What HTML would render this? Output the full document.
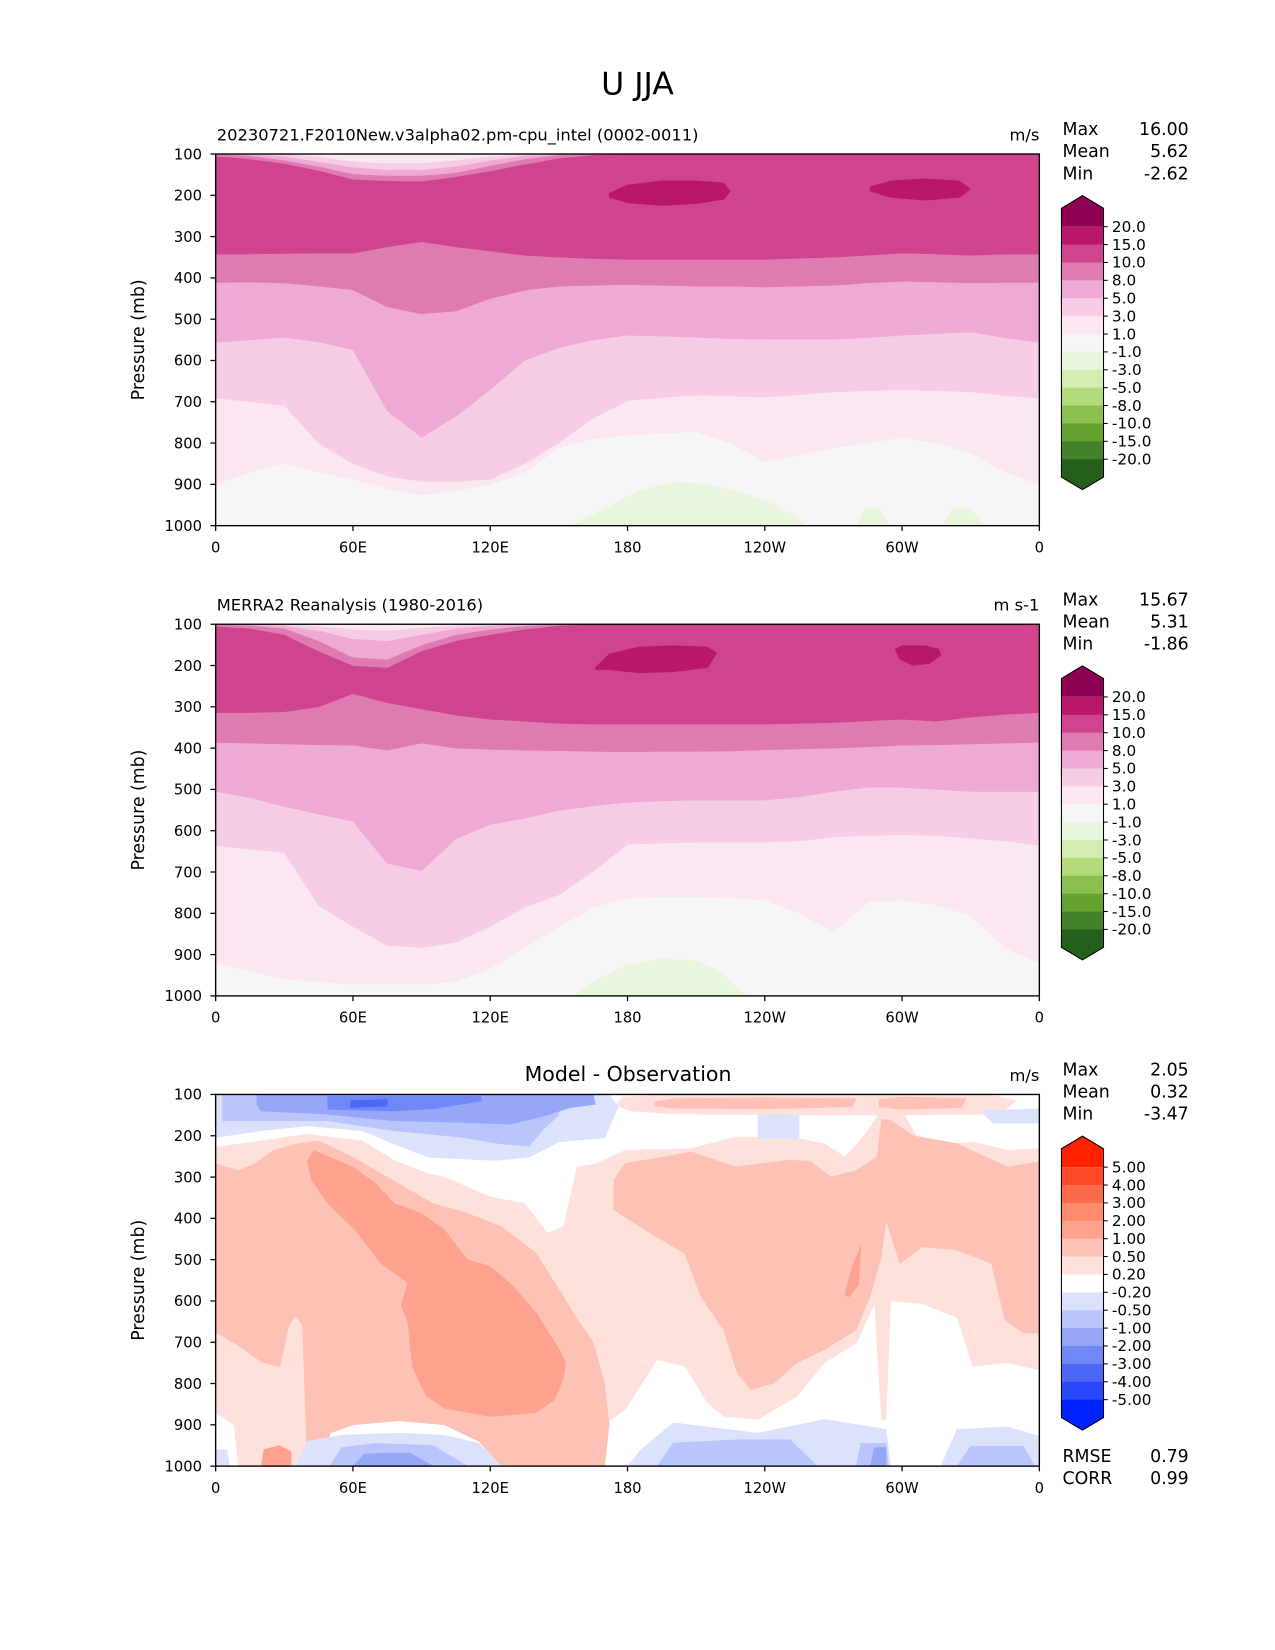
<!DOCTYPE html>
<html>
<head>
<meta charset="utf-8">
<style>
html,body{margin:0;padding:0;background:#fff;}
svg{display:block;font-family:"DejaVu Sans","Liberation Sans",sans-serif;}
</style>
</head>
<body>
<svg id="fig" width="1275" height="1650" viewBox="0 0 1212 1568.5" xmlns="http://www.w3.org/2000/svg">
<rect x="0" y="0" width="1212" height="1568.5" fill="#fff"/>
<text x="606" y="90" font-size="30" text-anchor="middle">U JJA</text>
</svg>
<script>
// ---------- data ----------
const lons15 = [0,15,30,45,60,75,90,105,120,135,150,165,180,195,210,225,240,255,270,285,300,315,330,345,360];
const yTicks = [100,200,300,400,500,600,700,800,900,1000];
const xTickLons = [0,60,120,180,240,300,360];
const xTickLabels = ["0","60E","120E","180","120W","60W","0"];

const fieldLevels = ["20.0","15.0","10.0","8.0","5.0","3.0","1.0","-1.0","-3.0","-5.0","-8.0","-10.0","-15.0","-20.0"];
const fieldColors = ['#8e0152','#b8176c','#d0438f','#de7bb1','#eeaad4','#f7cde5','#fae7f2','#f6f6f6','#e9f5dc','#d4ecb2','#b3db7b','#8bbf4f','#64a330','#44812a','#265f1c'];
const diffLevels = ["5.00","4.00","3.00","2.00","1.00","0.50","0.20","-0.20","-0.50","-1.00","-2.00","-3.00","-4.00","-5.00"];
const diffColors = ['#ff2200','#ff4a2a','#ff6a4a','#ff8a6c','#fda28e','#fdc2b5','#ffe1dc','#ffffff','#dce2fc','#bac5fb','#96a7f8','#7088f5','#4d68f4','#2a48fa','#0022ff'];

// Model: lower boundary pressure (hPa) of regions >= threshold
const m_b1  = [900,870,850,870,888,910,926,915,901,870,811,790,781,776,773,800,845,830,811,800,786,800,824,870,900];
const m_b3  = [691,700,709,800,850,880,893,893,888,850,799,740,697,690,684,686,689,683,676,673,671,673,676,685,691];
const m_b5  = [556,550,544,555,574,722,786,735,671,600,569,550,539,541,544,547,549,549,549,545,539,535,531,545,556];
const m_b8  = [411,410,412,420,429,470,487,480,450,430,420,418,416,418,420,420,422,420,418,412,408,410,412,411,411];
const m_b10 = [342,342,341,340,340,325,312,325,335,345,350,353,355,355,355,355,355,352,350,345,340,342,345,342,342];
// Model: weak-wind cap near 100 hPa (lower boundary)
const m_t8 = [105,112,123,140,161,165,166,155,141,125,110,102,100,100,100,100,100,100,100,100,100,100,100,100,100];
const m_t5 = [100,104,115,130,148,152,152,145,128,112,102,100,100,100,100,100,100,100,100,100,100,100,100,100,100];
const m_t3 = [100,100,106,118,132,138,138,130,115,104,100,100,100,100,100,100,100,100,100,100,100,100,100,100,100];
const m_t1 = [100,100,100,106,118,122,122,115,105,100,100,100,100,100,100,100,100,100,100,100,100,100,100,100,100];
const m_core1Lon = [172,180,195,210,222,225,222,210,195,180,172];
const m_core1P   = [195,175,165,165,170,190,210,220,225,218,205];
const m_core2Lon = [286,295,310,325,330,325,310,295,286];
const m_core2P   = [180,165,160,165,185,205,212,205,190];
const m_greenLon = [155,170,185,200,215,230,245,255,258];
const m_greenP   = [1000,960,915,895,900,920,950,985,1000];
const m_green2Lon = [280,284,290,294];
const m_green2P   = [1000,960,955,1000];
const m_green3Lon = [318,322,330,336];
const m_green3P   = [1000,960,960,1000];

// Obs
const o_b1  = [921,940,959,965,972,972,972,965,934,883,832,786,763,760,760,762,768,800,845,773,768,780,806,883,921];
const o_b3  = [636,645,653,781,832,878,883,870,832,786,755,699,633,630,628,628,628,625,615,612,610,612,618,625,636];
const o_b5  = [505,520,541,560,577,679,697,620,585,570,551,540,531,528,526,526,526,518,505,495,495,500,505,505,505];
const o_b8  = [386,388,390,392,393,405,388,400,403,405,406,408,409,408,408,407,404,402,400,397,393,392,390,388,386];
const o_b10 = [314,314,312,300,268,290,305,320,330,335,340,342,342,342,342,342,342,340,338,334,330,335,325,318,314];
const o_t8 = [105,110,125,165,200,205,165,140,125,112,103,100,100,100,100,100,100,100,100,100,100,100,100,100,100];
const o_t5 = [100,103,110,140,180,185,150,125,112,104,100,100,100,100,100,100,100,100,100,100,100,100,100,100,100];
const o_t3 = [100,100,104,115,135,140,125,110,103,100,100,100,100,100,100,100,100,100,100,100,100,100,100,100,100];
const o_t1 = [100,100,100,104,112,115,108,102,100,100,100,100,100,100,100,100,100,100,100,100,100,100,100,100,100];
const o_core1Lon = [166,172,185,200,215,219,215,200,185,172,166];
const o_core1P   = [205,172,155,152,155,170,205,215,218,210,210];
const o_core2Lon = [297,300,310,316,317,312,305,299];
const o_core2P   = [160,152,152,160,175,195,200,185];
const o_greenLon = [157,165,180,195,210,220,230,233];
const o_greenP   = [1000,965,925,910,915,940,990,1000];

// Diff regions (lon, hPa) polygons
const d_L1Lon = [0,20,40,64,78,93,100,120,135,145,152,158,166,179,208,227,251,266,275,283,291,300,309,331,346,360,360,346,331,324,309,295,293,291,288,280,266,254,237,222,215,205,193,179,171,164,160,10,8,0];
const d_L1P   = [228,212,196,212,260,292,300,348,364,436,420,276,268,235,231,203,203,219,251,203,139,140,227,215,235,231,767,750,758,640,607,600,887,887,607,702,750,831,887,879,847,758,742,863,895,952,1000,1000,900,870];
const d_W1Lon = [40,42,60,90,115,130,140];
const d_W1P   = [1000,900,880,880,900,960,1000];
const d_L2aLon = [0,10,17,25,35,45,60,80,95,110,125,140,150,158,165,170,172,170,125,115,100,80,60,50,48,40,38,35,32,28,20,10,0];
const d_L2aP   = [268,284,268,236,220,212,252,316,364,388,420,484,572,644,700,800,900,1000,1000,940,900,890,900,920,1000,1000,660,636,660,760,748,708,676];
const d_L2bLon = [174,179,208,227,251,260,269,280,289,291,295,305,324,346,360,360,353,345,339,324,309,299,293,291,286,280,266,254,244,234,228,222,212,205,190,174];
const d_L2bP   = [308,267,239,275,259,262,300,284,251,160,163,200,219,275,263,678,678,646,509,477,469,509,404,493,589,670,718,750,799,815,775,670,589,485,436,380];
const d_L3aLon = [40,43,50,60,70,78,90,100,110,120,130,140,150,153,152,148,140,120,100,92,86,84,81,84,72,61,49,42];
const d_L3aP   = [260,236,252,276,316,364,388,428,500,516,564,628,716,748,788,840,870,880,860,830,760,652,612,556,508,428,364,308];
const d_L3bLon = [275,278,282,281,277];
const d_L3bP   = [585,520,465,560,590];
const d_L3cLon = [20,21,28,33,33];
const d_L3cP   = [1000,960,950,965,1000];
const d_topL1Lon = [175,178,190,240,290,340,350,343,300,250,200,181];
const d_topL1P   = [125,106,103,103,103,103,115,147,150,150,147,140];
const d_topL2aLon = [192,200,240,280,278,240,200,192];
const d_topL2aP   = [118,110,108,110,130,135,133,128];
const d_topL2bLon = [290,300,328,326,300,290];
const d_topL2bP   = [112,106,110,132,136,130];
const d_B1Lon = [0,172,176,170,160,150,137,122,93,78,64,40,20,0];
const d_B1P   = [100,100,130,205,210,215,252,260,252,220,188,176,188,204];
const d_B2Lon = [3,150,150,144,137,125,108,78,49,20,3];
const d_B2P   = [100,100,150,180,225,220,204,188,164,164,164];
const d_B3Lon = [18,165,166,155,145,129,108,78,49,20,18];
const d_B3P   = [100,100,124,132,150,172,168,164,148,140,125];
const d_B4Lon = [49,116,116,95,78,49];
const d_B4P   = [104,104,116,135,140,136];
const d_B5Lon = [59,75,75,59];
const d_B5P   = [115,112,128,132];
const d_Bt1Lon = [237,255,255,237];
const d_Bt1P   = [150,150,207,207];
const d_Bt2Lon = [334,360,360,340];
const d_Bt2P   = [140,135,170,170];
const d_Bb1Lon = [35,40,55,80,100,115,125];
const d_Bb1P   = [1000,940,925,920,925,945,1000];
const d_Bb2Lon = [50,55,70,95,110];
const d_Bb2P   = [1000,955,945,950,1000];
const d_Bb3Lon = [60,65,85,95];
const d_Bb3P   = [1000,970,968,1000];
const d_Bb4Lon = [180,186,200,237,266,293,295];
const d_Bb4P   = [1000,960,895,920,887,911,1000];
const d_Bb5Lon = [317,324,346,360,360];
const d_Bb5P   = [1000,911,905,928,1000];
const d_Bb6Lon = [193,200,229,251,263];
const d_Bb6P   = [1000,944,936,936,1000];
const d_Bb7Lon = [280,282,293,294];
const d_Bb7P   = [1000,945,945,1000];
const d_Bb8Lon = [324,330,353,358];
const d_Bb8P   = [1000,952,952,1000];
const d_Bb9Lon = [286,288,293,293];
const d_Bb9P   = [1000,955,955,1000];
const d_Bb10Lon = [0,0,5,6];
const d_Bb10P   = [1000,960,960,1000];

// ---------- drawing ----------
const NS = "http://www.w3.org/2000/svg";
const svg = document.getElementById('fig');
const PX0 = 205, PW = 783, PH = 353.3;
function X(lon){ return PX0 + lon/360*PW; }
function mk(tag, attrs, parent){
  const e = document.createElementNS(NS, tag);
  for (const k in attrs) e.setAttribute(k, attrs[k]);
  (parent||svg).appendChild(e);
  return e;
}

function panel(top, idx){
  const Y = p => top + (p-100)/900*PH;
  const g = mk('g', {});
  
  
  const cid = 'clip' + idx;
  const defs = mk('defs', {}, g);
  const cp = mk('clipPath', {id: cid}, defs);
  mk('rect', {x: PX0, y: top, width: PW, height: PH}, cp);
  const plot = mk('g', {'clip-path': 'url(#' + cid + ')'}, g);
  
  
  return {g, plot, Y, top};
}
function bandFromTop(P, arr, color, name){
  let pts = [[X(0), P.Y(100)]];
  for (let i = 0; i < lons15.length; i++) pts.push([X(lons15[i]), P.Y(arr[i])]);
  pts.push([X(360), P.Y(100)]);
  const e = mk('polygon', {points: pts.map(p => p.join(',')).join(' '), fill: color, stroke: color, 'stroke-width': 0.5}, P.plot);
  
  
}
function poly(P, lonArr, pArr, color, name){
  const pts = lonArr.map((l, i) => X(l) + ',' + P.Y(pArr[i])).join(' ');
  const e = mk('polygon', {points: pts, fill: color, stroke: color, 'stroke-width': 0.5}, P.plot);
  
  
}
function axes(P, leftTitle, rightTitle, centerTitle, stats, extra){
  const top = P.top, g = P.g;
  const fr = mk('rect', {x: PX0, y: top, width: PW, height: PH, fill: 'none', stroke: '#000', 'stroke-width': 1.3}, g);
  
  
  yTicks.forEach(p => {
    const y = P.Y(p);
    mk('line', {x1: PX0-5, x2: PX0, y1: y, y2: y, stroke: '#000', 'stroke-width': 1.2}, g);
    const t = mk('text', {x: PX0-13, y: y+5, 'font-size': 14, 'text-anchor': 'end'}, g);
    
    
    t.textContent = p;
  });
  xTickLons.forEach((l, i) => {
    const x = X(l);
    mk('line', {x1: x, x2: x, y1: top+PH, y2: top+PH+5, stroke: '#000', 'stroke-width': 1.2}, g);
    const t = mk('text', {x: x, y: top+PH+25.5, 'font-size': 14, 'text-anchor': 'middle'}, g);
    
    
    t.textContent = xTickLabels[i];
  });
  const yt = mk('text', {x: 0, y: 0, 'font-size': 16.5, 'text-anchor': 'middle', transform: 'translate(137,' + (top+PH/2) + ') rotate(-90)'}, g);
  
  
  yt.textContent = 'Pressure (mb)';
  if (leftTitle){
    const t = mk('text', {x: 206, y: top-13, 'font-size': 15.5}, g);
    
    
    t.textContent = leftTitle;
  }
  if (centerTitle){
    const t = mk('text', {x: 597, y: top-13, 'font-size': 19.5, 'text-anchor': 'middle'}, g);
    
    
    t.textContent = centerTitle;
  }
  const u = mk('text', {x: 988, y: top-13, 'font-size': 15.5, 'text-anchor': 'end'}, g);
  
  
  u.textContent = rightTitle;
  const names = ['Max','Mean','Min'];
  names.forEach((n, i) => {
    const a = mk('text', {x: 1010, y: top-18+i*21, 'font-size': 16.5}, g);
    
    
    a.textContent = n;
    const b = mk('text', {x: 1130, y: top-18+i*21, 'font-size': 16.5, 'text-anchor': 'end'}, g);
    
    
    b.textContent = stats[i];
  });
  if (extra){
    extra.forEach((e, i) => {
      const a = mk('text', {x: 1010, y: top+PH-4+i*21, 'font-size': 16.5}, g);
      
      
      a.textContent = e[0];
      const b = mk('text', {x: 1130, y: top+PH-4+i*21, 'font-size': 16.5, 'text-anchor': 'end'}, g);
      
      
      b.textContent = e[1];
    });
  }
}
function colorbar(P, colors, levels){
  const g = mk('g', {}, P.g);
  
  
  const off = P.top - 146.4;
  const x0 = 1009, x1 = 1049, xm = 1029;
  const t0 = 215.5 + off, step = 17;
  const rTop = t0 - 17.5, rBot = t0 + 13*step + 17;
  // top triangle + first segment
  mk('polygon', {points: `${x0},${rTop} ${xm},${rTop-12} ${x1},${rTop} ${x1},${t0} ${x0},${t0}`, fill: colors[0]}, g);
  for (let i = 1; i < 14; i++){
    mk('rect', {x: x0, y: t0+(i-1)*step, width: 40, height: step+0.3, fill: colors[i]}, g);
  }
  mk('polygon', {points: `${x0},${t0+13*step} ${x1},${t0+13*step} ${x1},${rBot} ${xm},${rBot+12} ${x0},${rBot}`, fill: colors[14]}, g);
  mk('polygon', {points: `${x0},${rTop} ${xm},${rTop-12} ${x1},${rTop} ${x1},${rBot} ${xm},${rBot+12} ${x0},${rBot}`, fill: 'none', stroke: '#000', 'stroke-width': 1}, g);
  levels.forEach((lv, i) => {
    const y = t0 + i*step;
    mk('line', {x1: x1, x2: x1+4, y1: y, y2: y, stroke: '#000', 'stroke-width': 1}, g);
    const t = mk('text', {x: 1057, y: y+5, 'font-size': 14.5}, g);
    
    
    t.textContent = lv;
  });
}

// Panel 1 - model
(function(){
  const P = panel(146.4, 'model');
  mk('rect', {x: PX0, y: P.top, width: PW, height: PH, fill: fieldColors[7]}, P.plot);
  bandFromTop(P, m_b1, fieldColors[6], 'band-1-3');
  bandFromTop(P, m_b3, fieldColors[5], 'band-3-5');
  bandFromTop(P, m_b5, fieldColors[4], 'band-5-8');
  bandFromTop(P, m_b8, fieldColors[3], 'band-8-10');
  bandFromTop(P, m_b10, fieldColors[2], 'band-10-15');
  bandFromTop(P, m_t8, fieldColors[3], 'top-band-8-10');
  bandFromTop(P, m_t5, fieldColors[4], 'top-band-5-8');
  bandFromTop(P, m_t3, fieldColors[5], 'top-band-3-5');
  bandFromTop(P, m_t1, fieldColors[6], 'top-band-1-3');
  poly(P, m_core1Lon, m_core1P, fieldColors[1], 'jet-core-pacific');
  poly(P, m_core2Lon, m_core2P, fieldColors[1], 'jet-core-atlantic');
  poly(P, m_greenLon, m_greenP, fieldColors[8], 'easterly-region');
  poly(P, m_green2Lon, m_green2P, fieldColors[8], 'easterly-region');
  poly(P, m_green3Lon, m_green3P, fieldColors[8], 'easterly-region');
  axes(P, '20230721.F2010New.v3alpha02.pm-cpu_intel (0002-0011)', 'm/s', null, ['16.00','5.62','-2.62']);
  colorbar(P, fieldColors, fieldLevels);
})();

// Panel 2 - obs
(function(){
  const P = panel(593.4, 'obs');
  mk('rect', {x: PX0, y: P.top, width: PW, height: PH, fill: fieldColors[7]}, P.plot);
  bandFromTop(P, o_b1, fieldColors[6], 'band-1-3');
  bandFromTop(P, o_b3, fieldColors[5], 'band-3-5');
  bandFromTop(P, o_b5, fieldColors[4], 'band-5-8');
  bandFromTop(P, o_b8, fieldColors[3], 'band-8-10');
  bandFromTop(P, o_b10, fieldColors[2], 'band-10-15');
  bandFromTop(P, o_t8, fieldColors[3], 'top-band-8-10');
  bandFromTop(P, o_t5, fieldColors[4], 'top-band-5-8');
  bandFromTop(P, o_t3, fieldColors[5], 'top-band-3-5');
  bandFromTop(P, o_t1, fieldColors[6], 'top-band-1-3');
  poly(P, o_core1Lon, o_core1P, fieldColors[1], 'jet-core-pacific');
  poly(P, o_core2Lon, o_core2P, fieldColors[1], 'jet-core-atlantic');
  poly(P, o_greenLon, o_greenP, fieldColors[8], 'easterly-region');
  axes(P, 'MERRA2 Reanalysis (1980-2016)', 'm s-1', null, ['15.67','5.31','-1.86']);
  colorbar(P, fieldColors, fieldLevels);
})();

// Panel 3 - diff
(function(){
  const P = panel(1040.4, 'diff');
  mk('rect', {x: PX0, y: P.top, width: PW, height: PH, fill: '#ffffff'}, P.plot);
  poly(P, d_L1Lon, d_L1P, diffColors[6], 'diff-0.2-0.5');
  poly(P, d_W1Lon, d_W1P, diffColors[7], 'diff-near-zero');
  poly(P, d_L2aLon, d_L2aP, diffColors[5], 'diff-0.5-1-west');
  poly(P, d_L2bLon, d_L2bP, diffColors[5], 'diff-0.5-1-east');
  poly(P, d_L3aLon, d_L3aP, diffColors[4], 'diff-1-2');
  poly(P, d_L3bLon, d_L3bP, diffColors[4], 'diff-1-2-small');
  poly(P, d_L3cLon, d_L3cP, diffColors[4], 'diff-1-2-surface');
  poly(P, d_topL1Lon, d_topL1P, diffColors[6], 'diff-top-0.2-0.5');
  poly(P, d_topL2aLon, d_topL2aP, diffColors[5], 'diff-top-0.5-1');
  poly(P, d_topL2bLon, d_topL2bP, diffColors[5], 'diff-top-0.5-1');
  poly(P, d_B1Lon, d_B1P, diffColors[8], 'diff-neg-0.2');
  poly(P, d_B2Lon, d_B2P, diffColors[9], 'diff-neg-0.5');
  poly(P, d_B3Lon, d_B3P, diffColors[10], 'diff-neg-1');
  poly(P, d_B4Lon, d_B4P, diffColors[11], 'diff-neg-2');
  poly(P, d_B5Lon, d_B5P, diffColors[12], 'diff-neg-3');
  poly(P, d_Bt1Lon, d_Bt1P, diffColors[8], 'diff-neg-patch');
  poly(P, d_Bt2Lon, d_Bt2P, diffColors[8], 'diff-neg-patch');
  poly(P, d_Bb1Lon, d_Bb1P, diffColors[8], 'diff-neg-surface');
  poly(P, d_Bb2Lon, d_Bb2P, diffColors[9], 'diff-neg-surface');
  poly(P, d_Bb3Lon, d_Bb3P, diffColors[10], 'diff-neg-surface');
  poly(P, d_Bb4Lon, d_Bb4P, diffColors[8], 'diff-neg-surface');
  poly(P, d_Bb5Lon, d_Bb5P, diffColors[8], 'diff-neg-surface');
  poly(P, d_Bb6Lon, d_Bb6P, diffColors[9], 'diff-neg-surface');
  poly(P, d_Bb7Lon, d_Bb7P, diffColors[9], 'diff-neg-surface');
  poly(P, d_Bb8Lon, d_Bb8P, diffColors[9], 'diff-neg-surface');
  poly(P, d_Bb9Lon, d_Bb9P, diffColors[10], 'diff-neg-surface');
  poly(P, d_Bb10Lon, d_Bb10P, diffColors[8], 'diff-neg-surface');
  axes(P, null, 'm/s', 'Model - Observation', ['2.05','0.32','-3.47'], [['RMSE','0.79'],['CORR','0.99']]);
  colorbar(P, diffColors, diffLevels);
})();
</script>
</body>
</html>
